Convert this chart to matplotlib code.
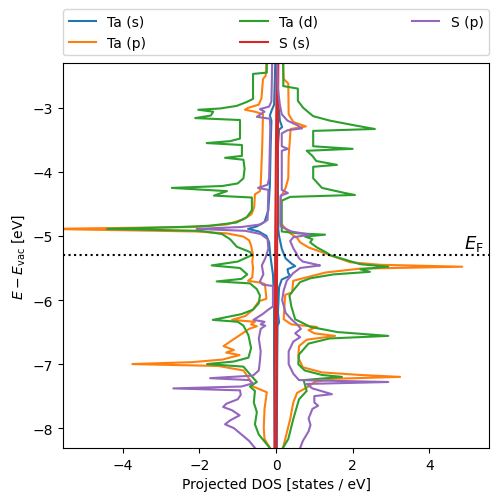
import matplotlib
matplotlib.use("Agg")
import matplotlib.pyplot as plt

# ---------------- data (E in eV, DOS in states/eV; spin-down drawn negative) -------------
e_fermi = -5.30

# Ta (s)
ta_s_up = [(-2.30, 0.02), (-2.90, 0.04), (-3.05, 0.08), (-3.20, 0.10), (-3.30, 0.16), (-3.34, 0.08),
           (-3.60, 0.05), (-4.30, 0.05), (-4.90, 0.06), (-5.00, 0.08), (-5.20, 0.15), (-5.35, 0.25),
           (-5.43, 0.40), (-5.47, 0.50), (-5.52, 0.30), (-5.58, 0.32), (-5.62, 0.37), (-5.68, 0.15),
           (-5.80, 0.08), (-6.20, 0.05), (-6.35, 0.08), (-6.40, 0.04), (-7.00, 0.03), (-8.31, 0.02)]
ta_s_dn = [(-2.30, -0.02), (-2.95, -0.05), (-3.05, -0.12), (-3.12, -0.16), (-3.20, -0.12),
           (-3.60, -0.14), (-4.20, -0.16), (-4.60, -0.20), (-4.78, -0.30), (-4.85, -0.50),
           (-4.89, -0.73), (-4.93, -0.45), (-5.00, -0.25), (-5.10, -0.18), (-5.30, -0.15),
           (-5.60, -0.08), (-6.00, -0.05), (-7.00, -0.05), (-8.31, -0.03)]

# Ta (p)
ta_p_up = [(-2.30, 0.18), (-2.55, 0.20), (-2.62, 0.32), (-3.10, 0.33), (-3.22, 0.45), (-3.29, 0.78),
           (-3.33, 0.38), (-3.60, 0.35), (-3.75, 0.33), (-4.10, 0.32), (-4.25, 0.25), (-4.40, 0.12),
           (-4.80, 0.12), (-4.95, 0.35), (-5.03, 0.55), (-5.10, 0.63), (-5.18, 0.85), (-5.26, 1.23),
           (-5.30, 1.41), (-5.41, 1.93), (-5.45, 2.72), (-5.48, 4.86), (-5.51, 2.19), (-5.57, 1.30),
           (-5.62, 0.97), (-5.70, 0.45), (-5.88, 0.42), (-5.92, 0.24), (-6.30, 0.20), (-6.38, 0.40),
           (-6.42, 1.07), (-6.47, 0.85), (-6.52, 1.00), (-6.56, 1.54), (-6.62, 0.80), (-6.72, 0.60),
           (-6.90, 0.58), (-7.05, 0.70), (-7.13, 1.20), (-7.17, 2.20), (-7.20, 3.24), (-7.23, 1.50),
           (-7.28, 1.00), (-7.35, 0.85), (-7.45, 0.55), (-7.60, 0.45), (-7.86, 0.37), (-8.17, 0.24),
           (-8.31, 0.18)]
ta_p_dn = [(-2.30, -0.25), (-2.50, -0.27), (-2.55, -0.34), (-2.85, -0.38), (-2.95, -0.45),
           (-3.00, -0.73), (-3.03, -0.81), (-3.06, -0.55), (-3.10, -0.34), (-3.60, -0.36),
           (-4.20, -0.40), (-4.30, -0.42), (-4.35, -0.55), (-4.55, -0.57), (-4.66, -0.64),
           (-4.74, -0.85), (-4.82, -1.28), (-4.86, -2.10), (-4.89, -6.00), (-4.93, -2.10),
           (-4.96, -1.28), (-5.01, -0.85), (-5.07, -0.70), (-5.15, -0.65), (-5.30, -0.60),
           (-5.40, -0.62), (-5.50, -0.60), (-5.65, -0.62), (-5.70, -0.73), (-5.73, -0.40),
           (-5.75, -0.29), (-5.98, -0.25), (-6.02, -0.45), (-6.15, -0.60), (-6.25, -0.80),
           (-6.31, -1.15), (-6.34, -0.55), (-6.38, -0.65), (-6.41, -0.50), (-6.45, -0.70),
           (-6.55, -0.95), (-6.65, -1.20), (-6.72, -1.37), (-6.78, -1.10), (-6.82, -1.30),
           (-6.86, -0.95), (-6.93, -1.40), (-6.97, -2.20), (-7.00, -3.75), (-7.03, -1.50),
           (-7.10, -0.85), (-7.25, -0.68), (-7.35, -0.60), (-7.44, -0.24), (-7.70, -0.30),
           (-8.00, -0.32), (-8.17, -0.30), (-8.31, -0.16)]

# Ta (d)
ta_d_up = [(-2.30, 0.19), (-2.66, 0.19), (-2.70, 0.57), (-2.89, 0.57), (-3.00, 0.71), (-3.13, 0.97),
           (-3.20, 1.41), (-3.28, 2.11), (-3.33, 2.58), (-3.36, 0.97), (-3.60, 0.97), (-3.64, 2.00),
           (-3.67, 0.80), (-3.75, 0.95), (-3.83, 1.05), (-3.89, 1.59), (-3.92, 0.97), (-4.10, 0.97),
           (-4.25, 1.20), (-4.33, 1.80), (-4.36, 2.06), (-4.39, 0.37), (-4.45, 0.15), (-4.93, 0.15),
           (-4.96, 0.60), (-4.98, 1.28), (-5.01, 0.76), (-5.05, 0.95), (-5.10, 0.89), (-5.18, 1.07),
           (-5.26, 1.32), (-5.30, 1.41), (-5.36, 1.75), (-5.44, 2.19), (-5.48, 2.93), (-5.52, 2.20),
           (-5.56, 2.45), (-5.60, 1.50), (-5.66, 0.90), (-5.72, 0.63), (-5.85, 0.45), (-5.93, 0.35),
           (-6.10, 0.40), (-6.30, 0.50), (-6.42, 0.90), (-6.50, 1.60), (-6.56, 2.93), (-6.60, 1.40),
           (-6.68, 0.85), (-6.85, 0.60), (-7.00, 0.58), (-7.10, 0.75), (-7.17, 1.20), (-7.20, 1.72),
           (-7.25, 0.72), (-7.42, 0.80), (-7.55, 0.60), (-7.86, 0.45), (-8.17, 0.32), (-8.31, 0.18)]
ta_d_dn = [(-2.30, -0.24), (-2.45, -0.24), (-2.47, -0.60), (-2.86, -0.60), (-2.91, -0.77),
           (-2.97, -1.03), (-3.01, -1.46), (-3.03, -2.03), (-3.06, -1.64), (-3.12, -1.70),
           (-3.16, -2.11), (-3.19, -0.94), (-3.48, -0.94), (-3.52, -1.20), (-3.55, -1.81),
           (-3.58, -0.89), (-3.75, -0.89), (-3.78, -1.33), (-3.81, -0.85), (-3.95, -0.82),
           (-4.10, -0.85), (-4.18, -1.00), (-4.22, -1.40), (-4.25, -2.72), (-4.30, -1.28),
           (-4.37, -1.62), (-4.40, -0.63), (-4.60, -0.63), (-4.71, -0.77), (-4.79, -1.03),
           (-4.84, -1.72), (-4.86, -2.50), (-4.89, -4.41), (-4.92, -1.98), (-4.97, -1.41),
           (-5.05, -1.20), (-5.17, -1.02), (-5.25, -0.68), (-5.30, -0.63), (-5.40, -1.00),
           (-5.46, -1.68), (-5.50, -0.94), (-5.60, -0.75), (-5.67, -0.90), (-5.71, -1.55),
           (-5.74, -0.68), (-5.83, -0.50), (-5.93, -0.42), (-6.05, -0.45), (-6.15, -0.60),
           (-6.22, -0.90), (-6.31, -1.65), (-6.34, -1.00), (-6.40, -0.85), (-6.55, -0.72),
           (-6.75, -0.65), (-6.90, -0.72), (-6.96, -1.10), (-7.00, -1.80), (-7.04, -0.85),
           (-7.16, -0.68), (-7.28, -0.50), (-7.35, -0.68), (-7.42, -0.55), (-7.60, -0.58),
           (-7.75, -0.50), (-7.94, -0.55), (-8.10, -0.45), (-8.31, -0.16)]

# S (s)
s_s_up = [(-2.30, 0.06), (-3.50, 0.05), (-5.00, 0.03), (-6.50, 0.02), (-8.31, 0.01)]
s_s_dn = [(-2.30, 0.02), (-3.50, 0.00), (-5.00, -0.02), (-6.50, -0.03), (-8.31, -0.04)]

# S (p)
s_p_up = [(-2.30, 0.03), (-2.70, 0.05), (-2.95, 0.10), (-3.10, 0.15), (-3.20, 0.30), (-3.27, 0.55),
          (-3.32, 0.68), (-3.35, 0.30), (-3.40, 0.15), (-3.60, 0.15), (-3.64, 0.31), (-3.67, 0.15),
          (-4.28, 0.15), (-4.33, 0.31), (-4.37, 0.12), (-4.85, 0.12), (-4.93, 0.40), (-4.98, 0.89),
          (-5.02, 0.45), (-5.08, 0.37), (-5.19, 0.45), (-5.28, 0.54), (-5.35, 0.60), (-5.40, 0.70),
          (-5.44, 1.00), (-5.46, 1.15), (-5.50, 0.63), (-5.58, 0.45), (-5.70, 0.28), (-5.85, 0.20),
          (-6.00, 0.16), (-6.20, 0.25), (-6.30, 0.40), (-6.38, 0.55), (-6.45, 0.65), (-6.52, 0.50),
          (-6.58, 0.63), (-6.65, 0.45), (-6.80, 0.33), (-7.00, 0.33), (-7.15, 0.45), (-7.25, 0.60),
          (-7.28, 2.93), (-7.31, 0.80), (-7.38, 0.95), (-7.47, 1.46), (-7.50, 1.00), (-7.60, 1.00),
          (-7.65, 1.10), (-7.70, 0.95), (-7.85, 0.85), (-7.95, 0.90), (-8.05, 0.85), (-8.20, 0.70),
          (-8.31, 0.63)]
s_p_dn = [(-2.30, -0.10), (-2.90, -0.12), (-2.98, -0.18), (-3.02, -0.42), (-3.06, -0.30),
          (-3.14, -0.50), (-3.17, -0.16), (-3.30, -0.15), (-4.10, -0.18), (-4.20, -0.22),
          (-4.25, -0.47), (-4.28, -0.20), (-4.75, -0.22), (-4.82, -0.40), (-4.86, -0.90),
          (-4.89, -2.07), (-4.92, -0.80), (-4.97, -0.40), (-5.05, -0.22), (-5.20, -0.20),
          (-5.35, -0.28), (-5.46, -0.37), (-5.60, -0.33), (-5.71, -0.42), (-5.76, -0.35),
          (-5.78, -0.08), (-6.10, -0.08), (-6.15, -0.20), (-6.22, -0.35), (-6.31, -0.59),
          (-6.34, -0.30), (-6.38, -0.40), (-6.40, -0.28), (-6.45, -0.40), (-6.60, -0.45),
          (-6.80, -0.40), (-6.95, -0.42), (-7.10, -0.45), (-7.18, -0.60), (-7.22, -1.72),
          (-7.25, -0.70), (-7.30, -0.60), (-7.35, -0.90), (-7.38, -2.68), (-7.41, -0.94),
          (-7.48, -0.92), (-7.55, -1.00), (-7.62, -1.30), (-7.67, -1.38), (-7.72, -1.15),
          (-7.80, -0.95), (-7.88, -1.20), (-7.94, -1.33), (-8.00, -1.10), (-8.10, -0.90),
          (-8.20, -0.70), (-8.31, -0.55)]

labels = ["Ta (s)", "Ta (p)", "Ta (d)", "S (s)", "S (p)"]
series = [(ta_s_up, ta_s_dn), (ta_p_up, ta_p_dn), (ta_d_up, ta_d_dn),
          (s_s_up, s_s_dn), (s_p_up, s_p_dn)]
colors = ["tab:blue", "tab:orange", "tab:green", "tab:red", "tab:purple"]

# ---------------- plot ----------------
fig = plt.figure(figsize=(4.98, 5.02), dpi=100)
ax = fig.add_axes([0.1265, 0.1056, 0.8555, 0.7669])

for lab, (up, dn), c in zip(labels, series, colors):
    eu, du = zip(*up)
    ed, dd = zip(*dn)
    ax.plot(du, eu, color=c, lw=1.5, label=lab)
    ax.plot(dd, ed, color=c, lw=1.5)

ax.axhline(e_fermi, color="black", ls=":", lw=1.5)
ax.set_xlim(-5.56, 5.56)
ax.set_ylim(-8.31, -2.30)
ax.text(5.42, e_fermi + 0.04, r"$E_\mathrm{F}$", ha="right", va="bottom", fontsize=13)

ax.set_xlabel("Projected DOS [states / eV]")
ax.set_ylabel(r"$E - E_\mathrm{vac}$ [eV]")
ax.legend(bbox_to_anchor=(0.0, 1.02, 1.0, 0.102), loc="lower left", ncol=3,
          mode="expand", borderaxespad=0.0)

fig.savefig("out.png", dpi=100)
